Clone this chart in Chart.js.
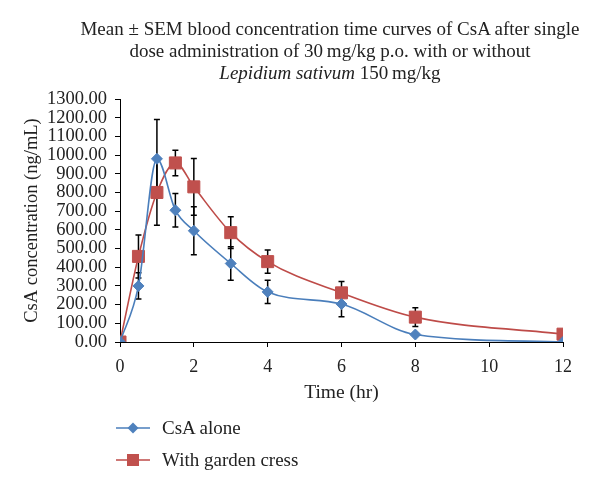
<!DOCTYPE html>
<html>
<head>
<meta charset="utf-8">
<script src="https://cdn.jsdelivr.net/npm/chart.js@4/dist/chart.umd.min.js"></script>
<style>
  html, body { margin: 0; padding: 0; background: #fff; }
  #wrap { position: relative; width: 600px; height: 490px; font-family: 'Liberation Serif', 'Times New Roman', serif; color: #222; overflow: hidden; }
  #c { position: absolute; left: 0; top: 0; }
  #title { position: absolute; left: 0; width: 660px; top: 18px; text-align: center; font-size: 19px; line-height: 22px; }
  #legend { position: absolute; left: 116px; top: 412px; font-size: 19px; }
  .item { display: flex; align-items: center; height: 32px; }
  .item canvas { margin-right: 12px; }
</style>
</head>
<body>
<div id="wrap">
  <canvas id="c" width="600" height="490"></canvas>
  <div id="title">Mean ± SEM blood concentration time curves of CsA after single<br>dose administration of 30&#8201;mg/kg p.o. with or without<br><i>Lepidium sativum</i> 150&#8201;mg/kg</div>
  <div id="legend"></div>
</div>
<script>
const times = [0, 0.5, 1, 1.5, 2, 3, 4, 6, 8, 12];
const csaAlone = [0, 300, 980, 705, 595, 420, 268, 203, 40, 0];
const csaAloneSem = [0, 70, 210, 90, 128, 90, 62, 68, 0, 0];
const withCress = [0, 458, 800, 958, 830, 585, 430, 263, 133, 42];
const withCressSem = [0, 115, 175, 68, 152, 85, 62, 60, 50, 0];
const seriesNames = ['CsA alone', 'With garden cress'];
const yTicksMax = 1300;
const xTicksMax = 12;

const blue = '#4A7EBB', blueFill = '#4F81BD';
const red = '#BE4B48', redFill = '#C0504D';

function pts(xs, ys) { return xs.map((x, i) => ({ x: x, y: ys[i] })); }

const errorBars = {
  id: 'errorBars',
  beforeDatasetsDraw(chart) {
    const ctx = chart.ctx;
    const ys = chart.scales.y, xs = chart.scales.x;
    ctx.save();
    ctx.strokeStyle = '#000';
    ctx.lineWidth = 1.5;
    chart.data.datasets.forEach(ds => {
      if (!ds.sem) return;
      ds.data.forEach((p, i) => {
        const e = ds.sem[i];
        if (!e) return;
        const px = xs.getPixelForValue(p.x);
        const top = ys.getPixelForValue(p.y + e);
        const bot = ys.getPixelForValue(p.y - e);
        ctx.beginPath();
        ctx.moveTo(px, top); ctx.lineTo(px, bot);
        ctx.moveTo(px - 3, top); ctx.lineTo(px + 3, top);
        ctx.moveTo(px - 3, bot); ctx.lineTo(px + 3, bot);
        ctx.stroke();
      });
    });
    ctx.restore();
  }
};

const serif = 'Liberation Serif';

new Chart(document.getElementById('c'), {
  type: 'line',
  data: {
    datasets: [
      {
        label: seriesNames[0], data: pts(times, csaAlone), sem: csaAloneSem,
        borderColor: blue, backgroundColor: blueFill, borderWidth: 1.6,
        pointStyle: 'rectRot', pointRadius: 5.5, pointBackgroundColor: blueFill, pointBorderColor: blueFill, pointBorderWidth: 1,
        cubicInterpolationMode: 'monotone', order: 1
      },
      {
        label: seriesNames[1], data: pts(times, withCress), sem: withCressSem,
        borderColor: red, backgroundColor: redFill, borderWidth: 1.6,
        pointStyle: 'rect', pointRadius: 8.5, pointBackgroundColor: redFill, pointBorderColor: redFill, pointBorderWidth: 1,
        cubicInterpolationMode: 'monotone', order: 2
      }
    ]
  },
  options: {
    responsive: false,
    animation: false,
    events: [],
    layout: { padding: { left: 0, right: 37, top: 99, bottom: 85 } },
    plugins: { legend: { display: false }, title: { display: false }, tooltip: { enabled: false } },
    scales: {
      x: {
        type: 'linear', min: 0, max: xTicksMax,
        ticks: { stepSize: 2, autoSkip: false, maxRotation: 0, color: '#222', font: { family: serif, size: 18 }, padding: 9 },
        grid: { drawOnChartArea: false, drawTicks: true, tickLength: 5, color: '#000' },
        border: { color: '#000', width: 1 },
        title: { display: true, text: 'Time (hr)', color: '#222', font: { family: serif, size: 19.5 }, padding: { top: 0, bottom: 0 } },
        afterFit(s) { s.height = 63; }
      },
      y: {
        min: 0, max: yTicksMax,
        ticks: { stepSize: 100, autoSkip: false, color: '#222', font: { family: serif, size: 18.5 }, padding: 8, callback: v => v.toFixed(2) },
        grid: { drawOnChartArea: false, drawTicks: true, tickLength: 5, color: '#000' },
        border: { color: '#000', width: 1 },
        title: { display: true, text: 'CsA concentration (ng/mL)', color: '#222', font: { family: serif, size: 18.5 }, padding: { top: 21, bottom: 0 } },
        afterFit(s) { s.width = 120; }
      }
    }
  },
  plugins: [errorBars]
});

// legend
function legendIcon(color, fill, style) {
  const c = document.createElement('canvas');
  c.width = 34; c.height = 14;
  const g = c.getContext('2d');
  g.strokeStyle = color; g.lineWidth = 1.6;
  g.beginPath(); g.moveTo(0, 7); g.lineTo(34, 7); g.stroke();
  g.fillStyle = fill;
  g.beginPath();
  if (style === 'diamond') {
    g.moveTo(17, 1.5); g.lineTo(22.5, 7); g.lineTo(17, 12.5); g.lineTo(11.5, 7); g.closePath();
  } else {
    g.rect(11, 1, 12, 12);
  }
  g.fill();
  return c;
}
const leg = document.getElementById('legend');
[[seriesNames[0], blue, blueFill, 'diamond'], [seriesNames[1], red, redFill, 'square']].forEach(([name, c, f, s]) => {
  const d = document.createElement('div'); d.className = 'item';
  d.appendChild(legendIcon(c, f, s));
  const t = document.createElement('span'); t.textContent = name;
  d.appendChild(t);
  leg.appendChild(d);
});
</script>
</body>
</html>
